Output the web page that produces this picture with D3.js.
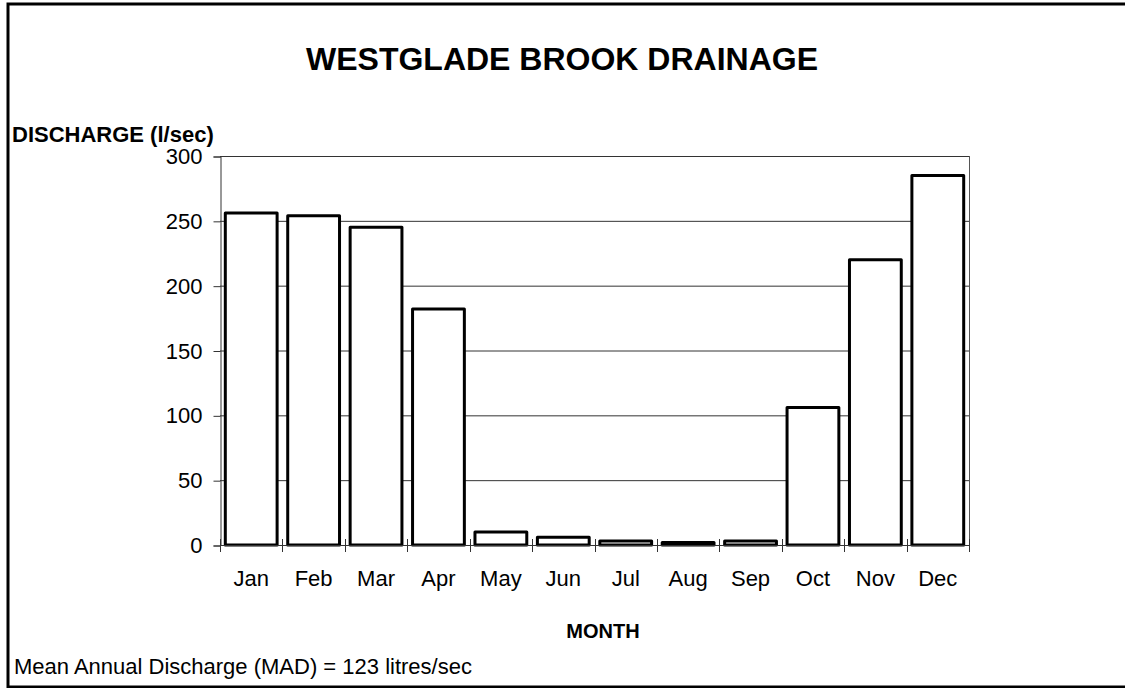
<!DOCTYPE html>
<html>
<head>
<meta charset="utf-8">
<script src="https://cdn.jsdelivr.net/npm/d3@7"></script>
<style>
  body { margin: 0; background: #fff; }
  svg { display: block; font-family: "Liberation Sans", Arial, sans-serif; }
</style>
</head>
<body>
<div id="chart"></div>
<script>
// monthly discharge, l/sec
const months = ["Jan", "Feb", "Mar", "Apr", "May", "Jun", "Jul", "Aug", "Sep", "Oct", "Nov", "Dec"];
const discharge = [256, 254, 245, 182, 10, 6, 3, 2, 3, 106, 220, 285];
const yTicks = [0, 50, 100, 150, 200, 250, 300];

const W = 1125, H = 688;
const plot = { left: 220, right: 969, top: 156, bottom: 545 };

const svg = d3.select("#chart").append("svg")
  .attr("width", W)
  .attr("height", H);

// outer frame (right edge runs off the page)
svg.append("rect")
  .attr("x", 8).attr("y", 4)
  .attr("width", 1130).attr("height", 683)
  .attr("fill", "#fff")
  .attr("stroke", "#000")
  .attr("stroke-width", 3);

const x = d3.scaleBand()
  .domain(months)
  .range([plot.left, plot.right])
  .paddingInner(0.17)
  .paddingOuter(0.085);

const xb = d3.scaleBand().domain(months).range([plot.left, plot.right]);

const y = d3.scaleLinear()
  .domain([0, 300])
  .range([plot.bottom, plot.top]);

// gridlines
svg.append("g")
  .selectAll("line")
  .data(yTicks.filter(d => d > 0))
  .enter().append("line")
  .attr("x1", plot.left).attr("x2", plot.right)
  .attr("y1", d => y(d) + 0.5).attr("y2", d => y(d) + 0.5)
  .attr("stroke", "#333")
  .attr("stroke-width", 1);

// right border of plot area
svg.append("line")
  .attr("x1", plot.right + 0.5).attr("x2", plot.right + 0.5)
  .attr("y1", plot.top).attr("y2", plot.bottom)
  .attr("stroke", "#555");

// y axis
const yAxis = svg.append("g")
  .attr("transform", "translate(" + (plot.left + 0.5) + ",0.5)")
  .call(d3.axisLeft(y).tickValues(yTicks).tickSize(7).tickPadding(11));
yAxis.select(".domain").attr("stroke", "#333");
yAxis.selectAll(".tick line").attr("stroke", "#333");
yAxis.selectAll("text")
  .attr("font-size", 22)
  .attr("font-family", "Liberation Sans, Arial, sans-serif")
  .attr("fill", "#000");

// bars
svg.append("g")
  .selectAll("rect")
  .data(months)
  .enter().append("rect")
  .attr("x", d => x(d))
  .attr("width", x.bandwidth())
  .attr("y", (d, i) => y(discharge[i]))
  .attr("height", (d, i) => y(0) - y(discharge[i]))
  .attr("fill", "#fff")
  .attr("stroke", "#000")
  .attr("stroke-width", 3)
  .attr("stroke-linejoin", "round");

// x axis line and cross ticks at band edges
svg.append("line")
  .attr("x1", plot.left).attr("x2", plot.right)
  .attr("y1", plot.bottom + 0.5).attr("y2", plot.bottom + 0.5)
  .attr("stroke", "#333");

const edges = months.map(m => xb(m)).concat([plot.right]);
svg.append("g")
  .selectAll("line")
  .data(edges)
  .enter().append("line")
  .attr("x1", d => Math.round(d) + 0.5).attr("x2", d => Math.round(d) + 0.5)
  .attr("y1", plot.bottom - 6).attr("y2", plot.bottom + 7)
  .attr("stroke", "#333");

// month labels
svg.append("g")
  .selectAll("text")
  .data(months)
  .enter().append("text")
  .attr("x", d => xb(d) + xb.bandwidth() / 2)
  .attr("y", 586)
  .attr("text-anchor", "middle")
  .attr("font-size", 22)
  .text(d => d);

// titles
svg.append("text")
  .attr("x", 562).attr("y", 70)
  .attr("text-anchor", "middle")
  .attr("font-size", 32)
  .attr("font-weight", "bold")
  .text("WESTGLADE BROOK DRAINAGE");

svg.append("text")
  .attr("x", 12).attr("y", 142)
  .attr("font-size", 22)
  .attr("font-weight", "bold")
  .text("DISCHARGE (l/sec)");

svg.append("text")
  .attr("x", 603).attr("y", 638)
  .attr("text-anchor", "middle")
  .attr("font-size", 20)
  .attr("font-weight", "bold")
  .text("MONTH");

svg.append("text")
  .attr("x", 14).attr("y", 674)
  .attr("font-size", 22)
  .text("Mean Annual Discharge (MAD) = 123 litres/sec");
</script>
</body>
</html>
